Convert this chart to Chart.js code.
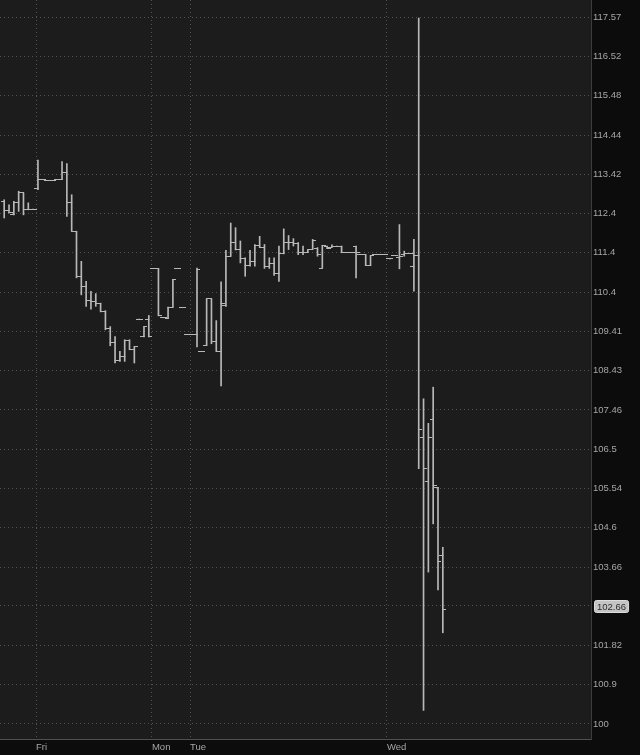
<!DOCTYPE html>
<html>
<head>
<meta charset="utf-8">
<script src="https://cdn.jsdelivr.net/npm/chart.js@4.4.0/dist/chart.umd.min.js"></script>
<style>
    html, body { margin: 0; padding: 0; background: #0c0c0c; }
    #wrap { width: 640px; height: 755px; position: relative; }
</style>
</head>
<body>
<div id="wrap"><canvas id="priceChart"></canvas></div>
<script>
// OHLC bars, one per slot, oldest first
const opens = [
    112.72, 112.48, 112.37, 112.70, 112.94, 112.50, 112.52, 113.04, 113.28, 113.26,
    113.26, 113.28, 113.28, 113.47, 112.70, 111.95, 110.80, 110.55, 110.19, 110.17,
    110.11, 109.91, 109.47, 109.13, 108.68, 108.78, 109.18, 108.95, 109.72, 109.27,
    109.72, 111.00, 111.00, 109.75, 109.73, 110.02, 111.00, 110.01, 109.33, 109.33,
    109.33, 108.91, 109.06, 110.23, 109.15, 108.91, 110.06, 111.31, 111.66, 111.47,
    111.25, 111.07, 111.18, 111.59, 111.53, 111.06, 111.12, 110.87, 111.38, 111.67,
    111.66, 111.64, 111.40, 111.41, 111.48, 111.51, 111.01, 111.57, 111.54, 111.57,
    111.57, 111.41, 111.41, 111.57, 111.35, 111.35, 111.07, 111.35, 111.35, 111.35,
    111.24, 111.33, 111.27, 111.35, 111.38, 111.04, 111.33, 106.77, 105.70, 107.23,
    105.57, 103.94
];
const highs = [
    112.76, 112.63, 112.72, 112.98, 112.94, 112.68, 112.52, 113.79, 113.28, 113.26,
    113.26, 113.28, 113.75, 113.70, 112.89, 111.95, 111.18, 110.67, 110.42, 110.36,
    110.12, 109.93, 109.53, 109.28, 108.91, 109.20, 109.20, 109.03, 109.72, 109.53,
    109.81, 111.00, 111.00, 109.75, 110.02, 110.72, 111.00, 110.01, 109.33, 109.33,
    111.01, 108.91, 110.23, 110.23, 109.68, 110.66, 111.46, 112.16, 112.04, 111.70,
    111.27, 111.46, 111.61, 111.82, 111.61, 111.27, 111.27, 111.57, 112.01, 111.84,
    111.76, 111.66, 111.57, 111.48, 111.74, 111.53, 111.59, 111.57, 111.60, 111.57,
    111.57, 111.41, 111.41, 111.57, 111.35, 111.35, 111.33, 111.35, 111.35, 111.35,
    111.24, 111.33, 112.12, 111.44, 111.38, 111.74, 117.55, 107.73, 107.13, 108.02,
    105.57, 104.13
];
const lows = [
    112.29, 112.42, 112.37, 112.46, 112.37, 112.50, 112.52, 113.02, 113.28, 113.26,
    113.26, 113.28, 113.28, 112.33, 111.95, 110.76, 110.33, 110.04, 109.97, 110.04,
    109.90, 109.45, 109.05, 108.62, 108.66, 108.66, 108.95, 108.62, 109.72, 109.27,
    109.27, 111.00, 109.80, 109.75, 109.73, 110.02, 111.00, 110.01, 109.33, 109.33,
    109.02, 108.91, 109.06, 109.10, 108.91, 108.05, 110.04, 111.31, 111.47, 111.14,
    110.80, 111.06, 111.06, 111.53, 111.00, 111.00, 110.82, 110.67, 111.37, 111.48,
    111.57, 111.35, 111.35, 111.40, 111.48, 111.31, 111.01, 111.50, 111.54, 111.57,
    111.40, 111.41, 111.41, 110.76, 111.35, 111.07, 111.07, 111.35, 111.35, 111.35,
    111.24, 111.33, 110.99, 111.31, 111.38, 110.42, 106.02, 100.31, 103.54, 104.69,
    103.12, 102.11
];
const closes = [
    112.48, 112.42, 112.70, 112.94, 112.50, 112.52, 112.52, 113.28, 113.28, 113.26,
    113.26, 113.28, 113.47, 112.70, 111.95, 110.80, 110.55, 110.19, 110.17, 110.11,
    109.91, 109.47, 109.13, 108.68, 108.78, 109.18, 108.95, 109.02, 109.72, 109.52,
    109.28, 111.00, 109.80, 109.75, 110.02, 110.72, 111.00, 110.01, 109.33, 109.33,
    110.97, 108.91, 110.23, 109.15, 108.91, 110.10, 111.31, 111.66, 111.47, 111.25,
    111.07, 111.18, 111.59, 111.53, 111.06, 111.12, 110.87, 111.38, 111.67, 111.66,
    111.64, 111.40, 111.41, 111.48, 111.72, 111.35, 111.59, 111.50, 111.55, 111.57,
    111.40, 111.41, 111.41, 111.40, 111.35, 111.07, 111.33, 111.35, 111.35, 111.35,
    111.24, 111.33, 111.30, 111.37, 111.38, 111.33, 106.97, 106.02, 106.79, 105.61,
    103.79, 102.66
];

// session starts (in bar slots) and their labels
const dayTicks = [6.6, 30.65, 38.55, 79.4];
const dayNames = ['Fri', 'Mon', 'Tue', 'Wed'];

// right axis grid values; the 102.74 label sits under the last-price bubble
const priceTicks = [100, 100.9, 101.82, 102.74, 103.66, 104.6, 105.54, 106.5, 107.46, 108.43,
    109.41, 110.4, 111.4, 112.4, 113.42, 114.44, 115.48, 116.52, 117.57];
const priceLabels = ['100', '100.9', '101.82', '', '103.66', '104.6', '105.54', '106.5', '107.46', '108.43',
    '109.41', '110.4', '111.4', '112.4', '113.42', '114.44', '115.48', '116.52', '117.57'];

const barColor = '#b8b8b8';
const gridColor = '#525252';
const labelColor = '#a6a6a6';
const axisFont = { family: 'Liberation Sans, Arial, sans-serif', size: 9.5 };

function makeTick(side) {
    const c = document.createElement('canvas');
    c.width = 7;
    c.height = 1;
    const g = c.getContext('2d');
    g.fillStyle = barColor;
    g.fillRect(side === 'left' ? 0 : 3, 0, 4, 1);
    return c;
}

// no label overhang padding, the plot runs to the edges
function noPadding(s) {
    s.paddingTop = 0;
    s.paddingBottom = 0;
    s.paddingLeft = 0;
    s.paddingRight = 0;
}

const backdrop = {
    id: 'backdrop',
    beforeDraw(chart) {
        const { ctx, chartArea: a } = chart;
        ctx.save();
        ctx.fillStyle = '#0c0c0c';
        ctx.fillRect(0, 0, chart.width, chart.height);
        ctx.fillStyle = '#1c1c1c';
        ctx.fillRect(a.left, a.top, a.right - a.left, a.bottom - a.top);
        ctx.restore();
    }
};

const lastBubble = {
    id: 'lastBubble',
    afterDraw(chart) {
        const { ctx, chartArea: a } = chart;
        const last = closes[closes.length - 1];
        const y = chart.scales.y.getPixelForValue(last) - 3;
        const text = last.toFixed(2);
        ctx.save();
        ctx.font = axisFont.size + 'px ' + axisFont.family;
        const w = ctx.measureText(text).width + 5;
        const x = a.right + 3;
        ctx.beginPath();
        ctx.roundRect(x + 0.5, Math.round(y - 6) + 0.5, w, 12, 2);
        ctx.fillStyle = '#c4c4c4';
        ctx.fill();
        ctx.strokeStyle = '#dcdcdc';
        ctx.stroke();
        ctx.fillStyle = '#2a2a2a';
        ctx.textBaseline = 'middle';
        ctx.fillText(text, x + 3, Math.round(y) + 1);
        ctx.restore();
    }
};

new Chart(document.getElementById('priceChart'), {
    type: 'bar',
    data: {
        datasets: [
            {
                type: 'bar',
                data: lows.map((l, i) => ({ x: i, y: [l, highs[i]] })),
                backgroundColor: barColor,
                borderWidth: 0,
                barThickness: 1,
                grouped: false,
                order: 2
            },
            {
                type: 'line',
                data: opens.map((v, i) => ({ x: i, y: v })),
                showLine: false,
                pointStyle: makeTick('left'),
                pointRadius: 3,
                order: 1
            },
            {
                type: 'line',
                data: closes.map((v, i) => ({ x: i, y: v })),
                showLine: false,
                pointStyle: makeTick('right'),
                pointRadius: 3,
                order: 1
            }
        ]
    },
    options: {
        responsive: true,
        maintainAspectRatio: false,
        animation: false,
        events: [],
        layout: { padding: 0, autoPadding: false },
        plugins: { legend: { display: false }, tooltip: { enabled: false } },
        scales: {
            x: {
                type: 'linear',
                offset: false,
                min: -0.871,
                max: 121.743,
                grid: { color: gridColor, drawTicks: false, offset: false },
                border: { color: '#505050', dash: [1, 3] },
                ticks: {
                    color: labelColor,
                    font: axisFont,
                    align: 'start',
                    autoSkip: false,
                    maxRotation: 0,
                    padding: 3,
                    callback: (v, i) => dayNames[i]
                },
                afterBuildTicks: s => { s.ticks = dayTicks.map(v => ({ value: v })); },
                afterFit: s => { s.height = 16; noPadding(s); }
            },
            y: {
                type: 'logarithmic',
                position: 'right',
                min: 99.655,
                max: 118.04,
                bounds: 'data',
                grid: { color: gridColor, drawTicks: false },
                border: { color: '#3c3c3c', dash: [1, 3] },
                ticks: {
                    color: labelColor,
                    font: axisFont,
                    autoSkip: false,
                    padding: 2,
                    callback: (v, i) => priceLabels[i]
                },
                afterBuildTicks: s => { s.ticks = priceTicks.map(v => ({ value: v })); },
                afterFit: s => { s.width = 49; noPadding(s); }
            }
        }
    },
    plugins: [backdrop, lastBubble]
});
</script>
</body>
</html>
